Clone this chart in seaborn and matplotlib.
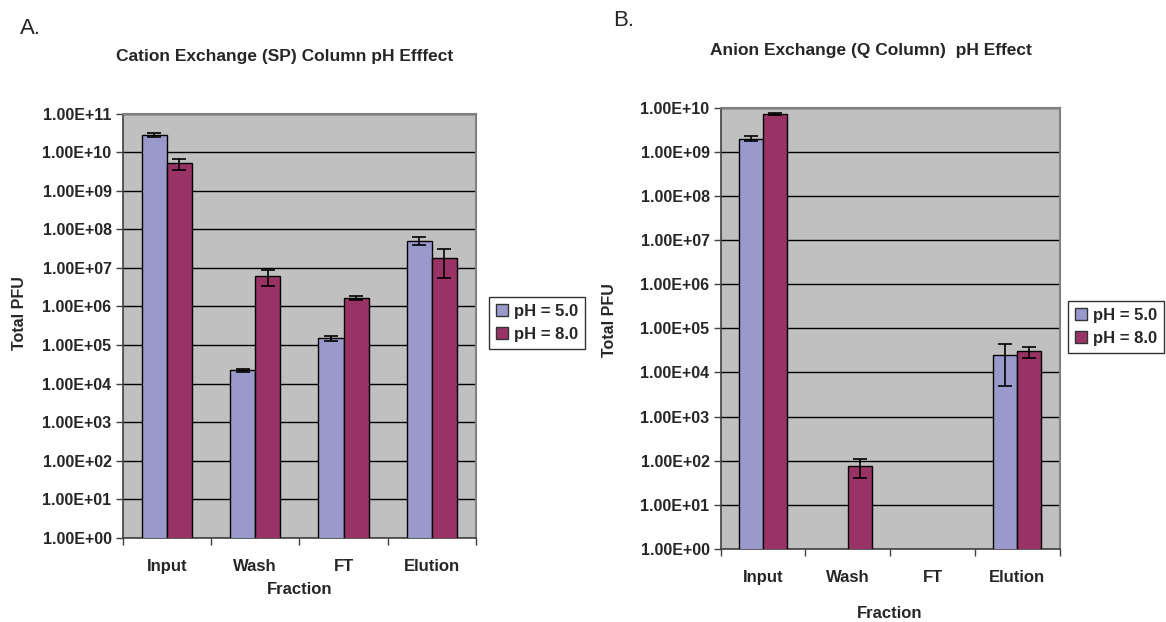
import numpy as np
import pandas as pd
import matplotlib
matplotlib.use("Agg")
import matplotlib.pyplot as plt
from matplotlib.ticker import FixedLocator, FuncFormatter, NullLocator
import seaborn as sns

# ---- data -------------------------------------------------------------
fractions = ["Input", "Wash", "FT", "Elution"]
ph_levels = ["pH = 5.0", "pH = 8.0"]

# Cation exchange (SP column), total PFU and error
sp_ph5 = [2.8e10, 2.2e4, 1.5e5, 5.1e7]
sp_ph8 = [5.1e9, 6.0e6, 1.65e6, 1.85e7]
sp_ph5_err = [3.5e9, 2.5e3, 2.0e4, 1.3e7]
sp_ph8_err = [1.7e9, 2.7e6, 2.2e5, 1.3e7]

# Anion exchange (Q column), total PFU and error (nan = no bar)
q_ph5 = [2.0e9, np.nan, np.nan, 2.5e4]
q_ph8 = [7.3e9, 76, np.nan, 3.0e4]
q_ph5_err = [2.6e8, np.nan, np.nan, 2.0e4]
q_ph8_err = [4.5e8, 36, np.nan, 8.5e3]

colors = {"pH = 5.0": "#9999CC", "pH = 8.0": "#993366"}

sns.set_theme(style="white")
plt.rcParams["font.family"] = ["Liberation Sans", "DejaVu Sans"]

W, H = 1166, 622
fig = plt.figure(figsize=(W / 100, H / 100), dpi=100)


def frame(df_vals, errs):
    rows = []
    for lvl, vals, ers in zip(ph_levels, df_vals, errs):
        for f, v, e in zip(fractions, vals, ers):
            if not np.isnan(v):
                rows.append({"Fraction": f, "PFU": v, "err": e, "pH": lvl})
    return pd.DataFrame(rows)


def panel(rect, data, top_exp, title, title_xy, letter, letter_xy,
          ylab_xy, xlab_y, leg_center):
    x0, y0, x1, y1 = rect
    ax = fig.add_axes([x0 / W, 1 - y1 / H, (x1 - x0) / W, (y1 - y0) / H])
    ax.set_facecolor("#C0C0C0")
    ax.set_yscale("log")
    sns.barplot(data=data, x="Fraction", y="PFU", hue="pH", order=fractions,
                hue_order=ph_levels, palette=colors, saturation=1, width=0.57,
                edgecolor="black", linewidth=1.0, errorbar=None, ax=ax,
                zorder=3)
    # error bars placed on each drawn bar
    for lvl, cont in zip(ph_levels, ax.containers):
        sub = data[data["pH"] == lvl].set_index("Fraction")
        for bar in cont:
            xc = bar.get_x() + bar.get_width() / 2
            cat = fractions[int(round(xc))]
            if cat in sub.index:
                ax.errorbar(xc, sub.loc[cat, "PFU"], yerr=sub.loc[cat, "err"],
                            fmt="none", ecolor="black", elinewidth=1.2,
                            capsize=5, capthick=1.2, zorder=4)
    ax.set_ylim(1, 10.0 ** top_exp)
    ax.set_xlim(-0.5, len(fractions) - 0.5)
    ax.yaxis.set_major_locator(FixedLocator([10.0 ** k for k in range(top_exp + 1)]))
    ax.yaxis.set_minor_locator(NullLocator())
    ax.yaxis.set_major_formatter(FuncFormatter(lambda v, p: f"{v:.2E}"))
    ax.grid(axis="y", which="major", color="black", linewidth=1.0, zorder=0)
    ax.set_axisbelow(True)
    # category boundary ticks, labels at centres
    ax.xaxis.set_major_locator(FixedLocator(np.arange(-0.5, len(fractions))))
    ax.xaxis.set_major_formatter(FuncFormatter(lambda v, p: ""))
    ax.xaxis.set_minor_locator(FixedLocator(np.arange(len(fractions))))
    ax.xaxis.set_minor_formatter(FuncFormatter(lambda v, p: fractions[int(round(v))]))
    ax.tick_params(axis="x", which="major", direction="out", length=5,
                   width=1, color="#404040", bottom=True)
    ax.tick_params(axis="x", which="minor", length=0, pad=15,
                   labelsize=12)
    ax.tick_params(axis="y", which="major", direction="out", length=5,
                   width=1, color="#404040", left=True, labelsize=11.5, pad=3)
    for lab in ax.get_xticklabels(minor=True) + ax.get_yticklabels():
        lab.set_fontweight("bold")
    for s in ["top", "right"]:
        ax.spines[s].set_color("#808080")
        ax.spines[s].set_linewidth(1.5)
    for s in ["left", "bottom"]:
        ax.spines[s].set_color("#404040")
        ax.spines[s].set_linewidth(1.2)
    ax.set_xlabel("")
    ax.set_ylabel("")
    fig.text(ylab_xy[0] / W, 1 - ylab_xy[1] / H, "Total PFU", rotation=90,
             ha="center", va="center", fontsize=11.5, fontweight="bold")
    fig.text(((x0 + x1) / 2) / W, 1 - xlab_y / H, "Fraction", ha="center",
             va="center", fontsize=12, fontweight="bold")
    fig.text(title_xy[0] / W, 1 - title_xy[1] / H, title, ha="center",
             va="center", fontsize=12.5, fontweight="bold")
    fig.text(letter_xy[0] / W, 1 - letter_xy[1] / H, letter, ha="left",
             va="center", fontsize=16)
    # legend boxed to the right of the plot area
    handles, labels = ax.get_legend_handles_labels()
    if ax.get_legend() is not None:
        ax.get_legend().remove()
    leg = fig.legend(handles, labels, loc="center",
                     bbox_to_anchor=(leg_center[0] / W, 1 - leg_center[1] / H),
                     frameon=True, fancybox=False, edgecolor="black",
                     handlelength=0.75, handleheight=0.75, handletextpad=0.35,
                     borderpad=0.4, labelspacing=0.5, borderaxespad=0,
                     prop={"weight": "bold", "size": 12})
    leg.get_frame().set_linewidth(1.0)
    for h in leg.legend_handles:
        h.set_edgecolor("#333333")
        h.set_linewidth(1.0)
    return ax


panel((122.7, 113.5, 476, 538), frame([sp_ph5, sp_ph8], [sp_ph5_err, sp_ph8_err]),
      11, "Cation Exchange (SP) Column pH Efffect", (285, 56), "A.", (20, 28),
      (20, 313), 590, (537, 323))
panel((720.7, 107.7, 1059.5, 549), frame([q_ph5, q_ph8], [q_ph5_err, q_ph8_err]),
      10, "Anion Exchange (Q Column)  pH Effect", (871, 50), "B.", (613, 20),
      (610, 320), 613, (1116, 327))

fig.savefig("out.png", dpi=100, facecolor="white")
